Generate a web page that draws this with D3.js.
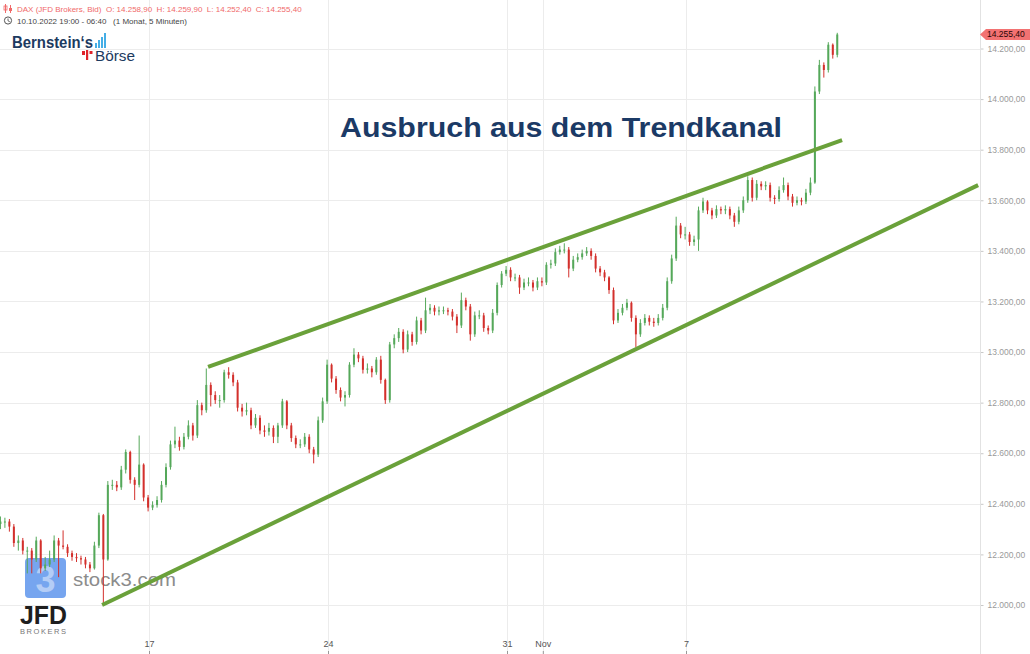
<!DOCTYPE html>
<html><head><meta charset="utf-8">
<script src="https://cdn.jsdelivr.net/npm/d3@7"></script>
<style>
body{margin:0;background:#fff;}
svg{display:block;font-family:"Liberation Sans",Arial,sans-serif;}
</style>
</head><body>
<svg id="c" width="1030" height="654"></svg>
<script>
// ---------- data ----------
const startDay = 0.85;      // trading-day index of first bar (day 0 = Mon 10 Oct)
const barStep = 0.125;      // each bar = 1/8 trading day
const firstOpen = 12320;
const closes = [
12330,12330,12310,12245,12255,12215,12215,12180,12255,12145,
12160,12180,12255,12235,12230,12205,12190,12185,12180,12160,
12145,12235,12355,12180,12475,12475,12465,12535,12605,12495,
12475,12555,12425,12385,12395,12415,12475,12545,12635,12650,
12625,12665,12710,12670,12790,12770,12870,12830,12810,12810,
12920,12910,12880,12780,12765,12770,12710,12740,12690,12685,
12700,12665,12710,12805,12710,12660,12635,12635,12665,12615,
12595,12730,12805,12950,12895,12850,12820,12830,12950,12990,
12975,12930,12935,12920,12970,12890,12810,13030,13055,13080,
13010,13070,13040,13125,13085,13165,13175,13160,13165,13165,
13160,13140,13105,13205,13180,13070,13145,13145,13095,13085,
13155,13265,13310,13325,13295,13295,13255,13275,13275,13255,
13280,13275,13345,13350,13395,13405,13405,13330,13365,13375,
13390,13400,13380,13330,13315,13295,13245,13125,13155,13175,
13195,13135,13070,13115,13135,13120,13115,13135,13175,13280,
13370,13500,13465,13465,13435,13445,13560,13595,13560,13540,
13565,13560,13565,13540,13515,13560,13600,13680,13610,13665,
13655,13660,13610,13605,13640,13660,13615,13590,13600,13595,
13630,13670,14030,14135,14115,14215,14175,14255.4];
const highs = [
12350,12345,12340,12320,12275,12265,12230,12225,12270,12260,
12190,12215,12275,12265,12295,12240,12215,12205,12195,12190,
12170,12250,12365,12360,12490,12495,12490,12550,12615,12610,
12505,12670,12560,12435,12410,12430,12490,12560,12650,12705,
12665,12680,12730,12720,12810,12800,12935,12880,12845,12830,
12930,12940,12920,12890,12795,12800,12780,12755,12750,12710,
12720,12710,12720,12815,12810,12720,12670,12655,12680,12675,
12625,12745,12820,12970,12955,12905,12860,12845,12960,13015,
13000,12985,12955,12945,12980,12985,12895,13040,13070,13095,
13090,13085,13080,13140,13135,13215,13190,13185,13180,13180,
13175,13170,13150,13235,13215,13190,13160,13165,13155,13105,
13170,13275,13320,13340,13335,13310,13305,13290,13295,13285,
13295,13295,13355,13365,13410,13420,13430,13415,13380,13390,
13405,13415,13410,13390,13340,13325,13300,13255,13170,13190,
13210,13200,13145,13130,13150,13145,13135,13150,13190,13295,
13385,13535,13510,13495,13475,13460,13575,13610,13600,13570,
13580,13575,13580,13575,13550,13575,13615,13695,13690,13680,
13675,13675,13670,13620,13655,13690,13670,13625,13615,13610,
13645,13690,14050,14155,14145,14225,14220,14262];
const lows = [
12300,12305,12290,12230,12215,12200,12125,12125,12170,12125,
12135,12150,12170,12110,12220,12190,12175,12170,12160,12145,
12130,12140,12225,12000,12175,12455,12450,12455,12520,12480,
12415,12465,12410,12370,12375,12385,12405,12465,12535,12620,
12610,12615,12655,12650,12660,12750,12760,12785,12795,12780,
12800,12895,12865,12765,12745,12750,12695,12700,12675,12665,
12670,12640,12640,12700,12695,12645,12620,12620,12625,12600,
12560,12585,12720,12795,12880,12835,12805,12785,12820,12940,
12960,12915,12915,12900,12910,12875,12795,12800,13015,13040,
12995,13000,13025,13030,13070,13075,13150,13145,13145,13150,
13145,13125,13075,13095,13165,13045,13060,13130,13080,13070,
13075,13145,13255,13300,13280,13280,13230,13245,13260,13240,
13245,13260,13265,13330,13340,13385,13390,13295,13320,13355,
13365,13380,13365,13315,13300,13280,13230,13110,13115,13145,
13165,13120,13020,13060,13105,13105,13100,13105,13125,13165,
13270,13360,13450,13445,13420,13420,13400,13550,13545,13525,
13530,13545,13545,13525,13495,13505,13550,13590,13595,13600,
13640,13640,13595,13585,13595,13630,13600,13575,13580,13580,
13585,13620,13665,14020,14085,14105,14160,14165];

const yTicks = [12000,12200,12400,12600,12800,13000,13200,13400,13600,13800,14000,14200];
const xTickDays = [5,10,15,16,20];
const xTickLabels = ["17","24","31","Nov","7"];
const upperChannel = [[6.65,12941],[24.36,13838]];
const lowerChannel = [[3.69,12000],[28.16,13660]];
const titleText = "Ausbruch aus dem Trendkanal";
const headerLine1 = "DAX (JFD Brokers, Bid)  O: 14.258,90  H: 14.259,90  L: 14.252,40  C: 14.255,40";
const headerLine2 = "10.10.2022 19:00 - 06:40   (1 Monat, 5 Minuten)";
const lastPrice = 14255.4;

// ---------- drawing ----------
const W = 1030, H = 654, plotRight = 980;
const svg = d3.select("#c");
const x = d3.scaleLinear().domain([0, 28.24]).range([-30, 981]);
const y = d3.scaleLinear().domain([12000, 14200]).range([605, 48.5]);
const loc = d3.formatLocale({decimal: ",", thousands: ".", grouping: [3], currency: ["", "€"]});
const fmt = loc.format(",.2f");
const crisp = v => Math.round(v) + 0.5;

// grid
const grid = svg.append("g");
grid.selectAll("line.h").data(yTicks).join("line").attr("class","h")
  .attr("x1", 0).attr("x2", plotRight)
  .attr("y1", d => crisp(y(d))).attr("y2", d => crisp(y(d)))
  .attr("stroke", "#ececec");
grid.selectAll("line.v").data(xTickDays).join("line").attr("class","v")
  .attr("x1", d => crisp(x(d))).attr("x2", d => crisp(x(d)))
  .attr("y1", 0).attr("y2", H)
  .attr("stroke", "#ececec");

// watermark (stock3 + JFD)
const wm = svg.append("g");
wm.append("rect").attr("x", 25).attr("y", 558).attr("width", 41).attr("height", 40).attr("rx", 4)
  .attr("fill", "#76a5ef");
wm.append("text").attr("x", 45.5).attr("y", 592).attr("text-anchor", "middle")
  .attr("font-size", 36).attr("font-weight", "bold").attr("fill", "#b4cdf6").text("3");
wm.append("text").attr("x", 73).attr("y", 586).attr("font-size", 19)
  .attr("textLength", 103).attr("lengthAdjust", "spacingAndGlyphs")
  .attr("fill", "#8c8c8c").text("stock3.com");
wm.append("text").attr("x", 20).attr("y", 624).attr("font-size", 25).attr("font-weight", "bold")
  .attr("textLength", 47).attr("lengthAdjust", "spacingAndGlyphs")
  .attr("fill", "#1e1e1e").text("JFD");
wm.append("text").attr("x", 20).attr("y", 634).attr("font-size", 7.5)
  .attr("textLength", 46).attr("lengthAdjust", "spacing")
  .attr("fill", "#777").text("BROKERS");

// candles
const bars = closes.map((c, i) => ({
  d: startDay + i * barStep, o: i ? closes[i - 1] : firstOpen, c, h: highs[i], l: lows[i]
}));
const up = "#55a85a", dn = "#d3302c";
svg.append("clipPath").attr("id", "clip").append("rect").attr("x", 0).attr("y", 0).attr("width", plotRight).attr("height", H);
const cg = svg.append("g").attr("clip-path", "url(#clip)");
cg.selectAll("line").data(bars).join("line")
  .attr("x1", b => x(b.d)).attr("x2", b => x(b.d))
  .attr("y1", b => y(b.h)).attr("y2", b => y(b.l))
  .attr("stroke", b => b.c >= b.o ? up : dn).attr("stroke-width", 1);
cg.selectAll("rect").data(bars).join("rect")
  .attr("x", b => x(b.d) - 1).attr("width", 2)
  .attr("y", b => y(Math.max(b.o, b.c)))
  .attr("height", b => Math.max(1, Math.abs(y(b.o) - y(b.c))))
  .attr("fill", b => b.c >= b.o ? up : dn);

// channel lines
const line = d3.line().x(p => x(p[0])).y(p => y(p[1]));
[upperChannel, lowerChannel].forEach(ch => {
  svg.append("path").attr("d", line(ch)).attr("fill", "none")
    .attr("stroke", "#6aa13a").attr("stroke-width", 4).attr("stroke-linecap", "butt");
});

// title
svg.append("text").attr("x", 340).attr("y", 137).attr("font-size", 28).attr("font-weight", "bold")
  .attr("textLength", 442).attr("lengthAdjust", "spacingAndGlyphs")
  .attr("fill", "#1b3a66").text(titleText);

// right axis
const ya = svg.append("g").attr("transform", `translate(${plotRight + 0.5},0)`)
  .call(d3.axisRight(y).tickValues(yTicks).tickSize(3).tickPadding(4).tickFormat(fmt));
ya.select(".domain").remove();
ya.selectAll(".tick line").attr("stroke", "#c8c8c8");
ya.selectAll(".tick text").attr("fill", "#9a9a9a").attr("font-size", 8.5)
  .attr("font-family", "'Liberation Sans',Arial,sans-serif");
svg.append("line").attr("x1", plotRight + 0.5).attr("x2", plotRight + 0.5).attr("y1", 0).attr("y2", H)
  .attr("stroke", "#e2e2e2");

// last price tag
const ty = y(lastPrice);
svg.append("path")
  .attr("d", `M${plotRight},${ty} L${plotRight + 6},${ty - 5.5} L${W},${ty - 5.5} L${W},${ty + 5.5} L${plotRight + 6},${ty + 5.5} Z`)
  .attr("fill", "#f27272");
svg.append("text").attr("x", 987).attr("y", ty + 3).attr("font-size", 8.5).attr("fill", "#2a0505")
  .text(fmt(lastPrice));

// bottom axis
const xa = svg.append("g").attr("transform", `translate(0,${H})`)
  .call(d3.axisTop(x).tickValues(xTickDays).tickSize(3).tickPadding(4).tickFormat((d, i) => xTickLabels[i]));
xa.select(".domain").remove();
xa.selectAll(".tick line").attr("stroke", "#999");
xa.selectAll(".tick text").attr("fill", "#555").attr("font-size", 9)
  .attr("font-family", "'Liberation Sans',Arial,sans-serif");

// header
const hd = svg.append("g");
hd.append("line").attr("x1", 5.5).attr("x2", 5.5).attr("y1", 4).attr("y2", 13).attr("stroke", "#f06a6a");
hd.append("rect").attr("x", 4).attr("y", 6).attr("width", 3).attr("height", 4).attr("fill", "none").attr("stroke", "#f06a6a").attr("stroke-width", 0.8);
hd.append("line").attr("x1", 10.5).attr("x2", 10.5).attr("y1", 5).attr("y2", 13).attr("stroke", "#f06a6a");
hd.append("rect").attr("x", 9).attr("y", 8).attr("width", 3).attr("height", 3).attr("fill", "#f06a6a");
hd.append("text").attr("x", 17).attr("y", 12).attr("font-size", 8).attr("fill", "#f06a6a")
  .style("white-space", "pre").text(headerLine1);
hd.append("circle").attr("cx", 8).attr("cy", 20.5).attr("r", 3.6).attr("fill", "none").attr("stroke", "#555").attr("stroke-width", 1);
hd.append("path").attr("d", "M8,18.5 L8,20.8 L9.8,21.8").attr("fill", "none").attr("stroke", "#555").attr("stroke-width", 0.9);
hd.append("text").attr("x", 17).attr("y", 23.5).attr("font-size", 8).attr("fill", "#444")
  .style("white-space", "pre").text(headerLine2);

// Bernstein's Börse logo
const lg = svg.append("g");
lg.append("text").attr("x", 12).attr("y", 48).attr("font-size", 16).attr("font-weight", "bold")
  .attr("textLength", 81).attr("lengthAdjust", "spacingAndGlyphs")
  .attr("fill", "#1c3a60").text("Bernstein‘s");
const blueBars = [[95, 43], [98, 40], [101, 37], [104, 33]];
blueBars.forEach(b => lg.append("rect").attr("x", b[0]).attr("y", b[1]).attr("width", 2).attr("height", 48 - b[1]).attr("fill", "#45aee6"));
lg.append("rect").attr("x", 82).attr("y", 51).attr("width", 3).attr("height", 4).attr("fill", "#e0232a");
lg.append("rect").attr("x", 86).attr("y", 50).attr("width", 2.2).attr("height", 10).attr("fill", "#e0232a");
lg.append("rect").attr("x", 89.5).attr("y", 51).attr("width", 3).attr("height", 3).attr("fill", "#e0232a");
lg.append("text").attr("x", 95).attr("y", 61).attr("font-size", 15)
  .attr("textLength", 40).attr("lengthAdjust", "spacingAndGlyphs")
  .attr("fill", "#1c3a60").text("Börse");
</script>
</body></html>
